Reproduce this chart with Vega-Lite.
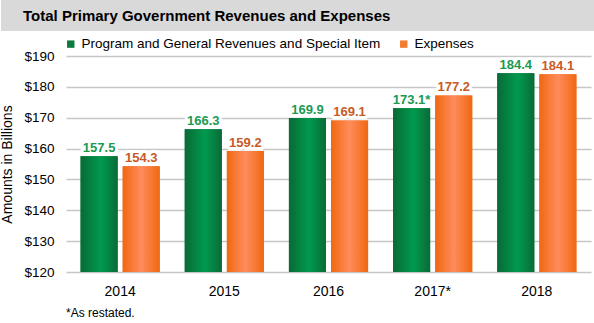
{
  "$schema": "https://vega.github.io/schema/vega-lite/v6.json",
  "width": 525,
  "height": 216,
  "padding": 0,
  "background": "white",
  "config": {
    "view": {"stroke": null},
    "font": "Liberation Sans",
    "axis": {"labelColor": "black", "titleColor": "black", "labelFont": "Liberation Sans", "titleFont": "Liberation Sans"},
    "legend": {"labelColor": "black", "labelFont": "Liberation Sans"}
  },
  "data": {
    "values": [
      {"year": "2014", "series": "Program and General Revenues and Special Item", "value": 157.5, "label": "157.5"},
      {"year": "2014", "series": "Expenses", "value": 154.3, "label": "154.3"},
      {"year": "2015", "series": "Program and General Revenues and Special Item", "value": 166.3, "label": "166.3"},
      {"year": "2015", "series": "Expenses", "value": 159.2, "label": "159.2"},
      {"year": "2016", "series": "Program and General Revenues and Special Item", "value": 169.9, "label": "169.9"},
      {"year": "2016", "series": "Expenses", "value": 169.1, "label": "169.1"},
      {"year": "2017*", "series": "Program and General Revenues and Special Item", "value": 173.1, "label": "173.1*"},
      {"year": "2017*", "series": "Expenses", "value": 177.2, "label": "177.2"},
      {"year": "2018", "series": "Program and General Revenues and Special Item", "value": 184.4, "label": "184.4"},
      {"year": "2018", "series": "Expenses", "value": 184.1, "label": "184.1"}
    ]
  },
  "encoding": {
    "x": {
      "field": "year", "type": "ordinal", "sort": null,
      "scale": {"paddingInner": 0.24, "paddingOuter": 0.14},
      "axis": {"title": null, "domain": false, "ticks": false, "labelAngle": 0, "labelFontSize": 14, "labelPadding": 12}
    },
    "xOffset": {
      "field": "series", "type": "nominal",
      "sort": ["Program and General Revenues and Special Item", "Expenses"],
      "scale": {"paddingInner": 0.12}
    },
    "y": {
      "field": "value", "type": "quantitative",
      "scale": {"domain": [120, 190], "zero": false, "nice": false},
      "axis": {
        "title": "Amounts in Billions", "titleFontSize": 14, "titleFontWeight": "normal", "titlePadding": 9,
        "values": [120, 130, 140, 150, 160, 170, 180, 190],
        "labelExpr": "'$' + datum.value", "labelFontSize": 13.5, "labelPadding": 12,
        "domain": false, "ticks": false,
        "grid": true, "gridColor": "#c6c6c6", "gridWidth": 1.6
      }
    }
  },
  "layer": [
    {
      "data": {"values": [{}]},
      "mark": {"type": "rect", "fill": "#d9d9d9", "x": -65, "x2": 529, "y": -56, "y2": -25, "clip": false},
      "encoding": {"x": null, "y": null, "xOffset": null}
    },
    {
      "data": {"values": [{"t": "Total Primary Government Revenues and Expenses"}]},
      "mark": {"type": "text", "x": -43, "y": -40, "align": "left", "baseline": "middle", "fontWeight": "bold", "fontSize": 15, "color": "black"},
      "encoding": {"x": null, "y": null, "xOffset": null, "text": {"field": "t"}}
    },
    {
      "data": {"values": [{"t": "*As restated."}]},
      "mark": {"type": "text", "x": 0, "y": 257, "align": "left", "baseline": "middle", "fontSize": 12, "color": "black"},
      "encoding": {"x": null, "y": null, "xOffset": null, "text": {"field": "t"}}
    },
    {
      "mark": {"type": "bar"},
      "encoding": {
        "y2": {"datum": 120},
        "color": {
          "field": "series", "type": "nominal",
          "scale": {"domain": ["Program and General Revenues and Special Item", "Expenses"], "range": ["#0b7a3e", "#f47a2f"]},
          "legend": {
            "orient": "none", "legendX": -2, "legendY": -19, "direction": "horizontal", "title": null,
            "symbolType": "square", "symbolSize": 55, "symbolStrokeWidth": 0, "labelFontSize": 13.5, "labelLimit": 500,
            "columnPadding": 16, "labelOffset": 4
          }
        }
      }
    },
    {
      "mark": {"type": "bar"},
      "encoding": {
        "y2": {"datum": 120},
        "fill": {
          "condition": {
            "test": "datum.series === 'Expenses'",
            "value": {"gradient": "linear", "x1": 0, "y1": 0, "x2": 1, "y2": 0,
              "stops": [{"offset": 0, "color": "#f06810"}, {"offset": 0.5, "color": "#ff8c5c"}, {"offset": 1, "color": "#f06810"}]}
          },
          "value": {"gradient": "linear", "x1": 0, "y1": 0, "x2": 1, "y2": 0,
            "stops": [{"offset": 0, "color": "#096a35"}, {"offset": 0.55, "color": "#009a4e"}, {"offset": 1, "color": "#0a6b37"}]}
        }
      }
    },
    {
      "mark": {"type": "text", "baseline": "alphabetic", "dy": -4, "fontSize": 13, "fontWeight": "bold", "fill": "white", "stroke": "white", "strokeWidth": 6, "strokeJoin": "round"},
      "encoding": {"text": {"field": "label"}}
    },
    {
      "mark": {"type": "text", "baseline": "alphabetic", "dy": -4, "fontSize": 13, "fontWeight": "bold"},
      "encoding": {
        "text": {"field": "label"},
        "color": {"condition": {"test": "datum.series === 'Expenses'", "value": "#c65b27"}, "value": "#1b9a52"}
      }
    }
  ]
}
